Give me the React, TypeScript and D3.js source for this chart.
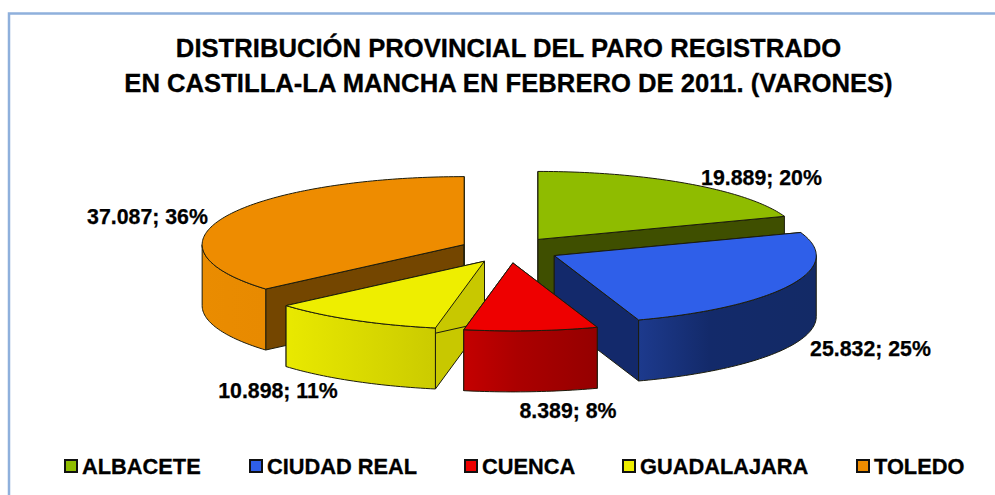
import React from "react";
import * as d3 from "d3";

const categories = ["ALBACETE", "CIUDAD REAL", "CUENCA", "GUADALAJARA", "TOLEDO"];
const values = [19889, 25832, 8389, 10898, 37087];
const valueLabels = ["19.889; 20%", "25.832; 25%", "8.389; 8%", "10.898; 11%", "37.087; 36%"];
const topColors = ["#8fbc00", "#2f5fe9", "#ee0000", "#eeee00", "#ee8c00"];
const sideFrom = ["#8fbc00", "#1d3a8d", "#c40000", "#e9e900", "#ea8c00"];
const sideMid = ["#84ae00", "#132a6a", "#ab0000", "#dddd00", "#e98b00"];
const sideTo = ["#7a9f00", "#132a66", "#950000", "#cbcb00", "#e88a00"];
const cutColors = ["#3f4f00", "#13296b", "#7a0000", "#c8c800", "#744600"];
const drawOrder = [0, 4, 1, 3, 2];
const labelX = [761.5, 870.5, 568, 278, 147.5];
const labelY = [185, 356, 418, 398, 224];
const legendX = [65, 250, 465, 623, 857];

const W = 995, H = 495;
const cx = 509.4, cy = 250, rx = 262, ry = 68, depth = 61, explode = 0.19;
const font = "'Liberation Sans', Arial, sans-serif";

const arcs = d3.pie<number>().sort(null).startAngle(0).endAngle(2 * Math.PI)(values);
const line = d3.line<[number, number]>();

function sampled(a0: number, a1: number, px: number, py: number, dy: number): [number, number][] {
  const n = Math.max(2, Math.ceil((a1 - a0) / 0.02));
  return d3.range(n + 1).map((i) => {
    const a = a0 + ((a1 - a0) * i) / n;
    return [px + rx * Math.sin(a), py - ry * Math.cos(a) + dy] as [number, number];
  });
}

function Slice({ i }: { i: number }) {
  const { startAngle: a0, endAngle: a1 } = arcs[i];
  const mid = (a0 + a1) / 2;
  const px = cx + explode * rx * Math.sin(mid);
  const py = cy - explode * ry * Math.cos(mid);
  const apex: [number, number] = [px, py];
  const apexLow: [number, number] = [px, py + depth];
  const topPts = sampled(a0, a1, px, py, 0);
  const top = line([apex, ...topPts]) + "Z";
  const wall = (a: number) => {
    const p: [number, number] = [px + rx * Math.sin(a), py - ry * Math.cos(a)];
    return line([apex, p, [p[0], p[1] + depth], apexLow]) + "Z";
  };
  const v0 = Math.max(a0, Math.PI / 2);
  const v1 = Math.min(a1, (3 * Math.PI) / 2);
  const stroke = "#1c1c0c";
  return (
    <g stroke={stroke} strokeWidth={1} strokeLinejoin="round">
      <path d={wall(a0)} fill={cutColors[i]} />
      <path d={wall(a1)} fill={cutColors[i]} />
      {v1 > v0 && (
        <path
          d={line([...sampled(v0, v1, px, py, 0), ...sampled(v0, v1, px, py, depth).reverse()]) + "Z"}
          fill={`url(#side${i})`}
        />
      )}
      <path d={top} fill={topColors[i]} />
    </g>
  );
}

export default function App() {
  return (
    <svg width={W} height={H} style={{ position: "absolute", left: 0, top: 0, background: "#fff" }}>
      <defs>
        {categories.map((_, i) => (
          <linearGradient key={i} id={`side${i}`} x1="0" x2="1" y1="0" y2="0">
            <stop offset="0" stopColor={sideFrom[i]} />
            <stop offset="0.4" stopColor={sideMid[i]} />
            <stop offset="1" stopColor={sideTo[i]} />
          </linearGradient>
        ))}
      </defs>
      <path d={`M9 ${H}V13.5H${W}`} fill="none" stroke="#8fb0dc" strokeWidth={2.5} />
      <g fontFamily={font} fontWeight="bold" fontSize={25.65} textAnchor="middle" fill="#000" stroke="#000" strokeWidth={0.3}>
        <text x={508.5} y={57}>DISTRIBUCIÓN PROVINCIAL DEL PARO REGISTRADO</text>
        <text x={508.5} y={92}>EN CASTILLA-LA MANCHA EN FEBRERO DE 2011. (VARONES)</text>
      </g>
      {drawOrder.map((i) => <Slice key={i} i={i} />)}
      <g fontFamily={font} fontWeight="bold" fontSize={21.3} textAnchor="middle" fill="#000" stroke="#000" strokeWidth={0.25}>
        {valueLabels.map((t, i) => (
          <text key={i} x={labelX[i]} y={labelY[i]}>{t}</text>
        ))}
      </g>
      <g fontFamily={font} fontWeight="bold" fontSize={21.8} fill="#000" stroke="#000" strokeWidth={0.3}>
        {categories.map((c, i) => (
          <g key={c}>
            <rect x={legendX[i]} y={460} width={12} height={12} fill={topColors[i]} stroke="#111" strokeWidth={2} />
            <text x={legendX[i] + 17} y={474}>{c}</text>
          </g>
        ))}
      </g>
    </svg>
  );
}
